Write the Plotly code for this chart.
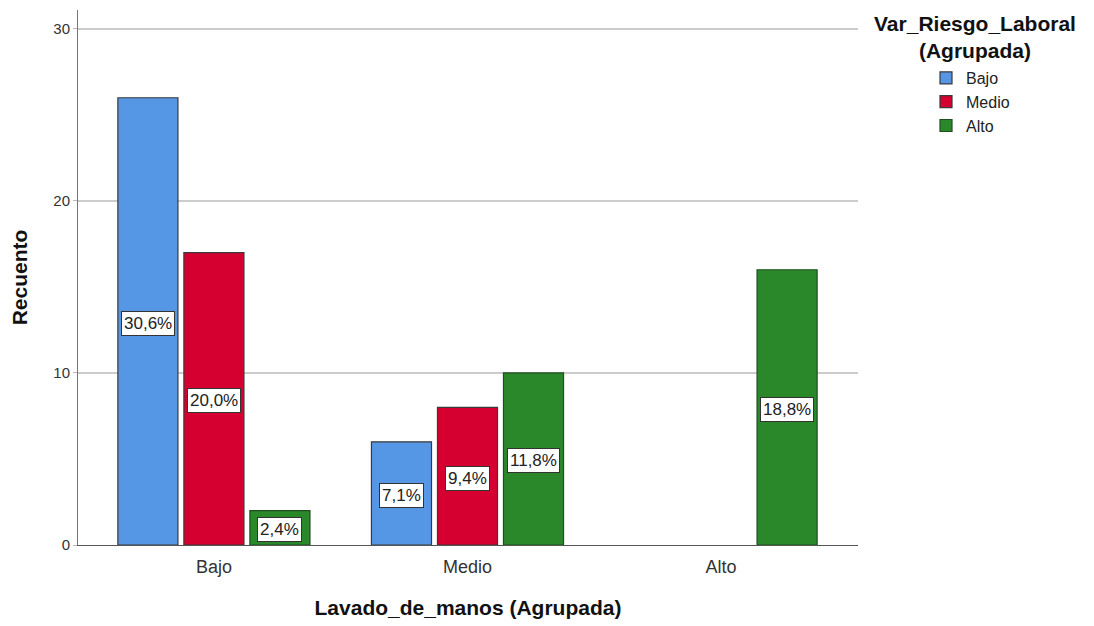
import plotly.graph_objects as go

categories = ["Bajo", "Medio", "Alto"]
series_names = ["Bajo", "Medio", "Alto"]
counts = {
    "Bajo": [26, 6, None],
    "Medio": [17, 8, None],
    "Alto": [2, 10, 16],
}
pct_labels = {
    "Bajo": ["30,6%", "7,1%", None],
    "Medio": ["20,0%", "9,4%", None],
    "Alto": ["2,4%", "11,8%", "18,8%"],
}
colors = {"Bajo": "#5596E5", "Medio": "#D5002F", "Alto": "#2A872A"}
outline = {"Bajo": "#3a3a3a", "Medio": "#3a3a3a", "Alto": "#1f4f1f"}

FONT = "Liberation Sans, Arial, sans-serif"
BARGAP = 0.219

fig = go.Figure()
for s in series_names:
    fig.add_trace(go.Bar(
        name=s, x=categories, y=counts[s],
        marker=dict(color=colors[s], line=dict(color=outline[s], width=1.2)),
        offsetgroup=s,
    ))

# percentage labels at bar mid-heights
n = len(series_names)
slot = (1 - BARGAP) / n
for i, s in enumerate(series_names):
    for j, c in enumerate(categories):
        v = counts[s][j]
        lab = pct_labels[s][j]
        if v is None or lab is None:
            continue
        xoff = -(1 - BARGAP) / 2 + slot * (i + 0.5)
        fig.add_annotation(
            x=j + xoff, y=v / 2, xref="x", yref="y",
            text=lab, showarrow=False,
            font=dict(family=FONT, size=17, color="#222"),
            bgcolor="white", bordercolor="#333", borderwidth=1, borderpad=2,
            yshift=-2,
        )

# legend title as annotation
fig.add_annotation(
    xref="paper", yref="paper", x=(975 - 78) / 780, y=1.0,
    xanchor="center", yanchor="top",
    text="<b>Var_Riesgo_Laboral</b><br><b>(Agrupada)</b>",
    showarrow=False, align="center",
    font=dict(family=FONT, size=21, color="#111"),
)

# page body has an 8px margin: figure is placed at (8, 8)
fig.update_layout(
    width=1086, height=618,
    margin=dict(l=70, r=236, t=2, b=81),
    paper_bgcolor="white", plot_bgcolor="white",
    barmode="group", bargap=BARGAP, bargroupgap=0.09,
    font=dict(family=FONT, color="#333"),
    legend=dict(
        x=(926 - 78) / 780, y=(535 - 51) / 535, xanchor="left", yanchor="top",
        font=dict(family=FONT, size=16, color="#222"),
        bgcolor="rgba(0,0,0,0)", tracegroupgap=0, itemwidth=30,
    ),
    showlegend=True,
    xaxis=dict(
        range=[-0.536, 2.54], showgrid=False, showline=True,
        linecolor="#555", linewidth=1, ticks="outside", ticklen=5,
        tickcolor="rgba(0,0,0,0)",
        tickfont=dict(family=FONT, size=18, color="#333"),
        title=dict(text="<b>Lavado_de_manos (Agrupada)</b>",
                   font=dict(family=FONT, size=21, color="#111"), standoff=24),
    ),
    yaxis=dict(
        range=[0, 31.1], tickvals=[0, 10, 20, 30], showgrid=True,
        gridcolor="#cccccc", gridwidth=1.5, showline=True, linecolor="#777",
        linewidth=1, ticks="outside", ticklen=4, tickcolor="#bbb",
        tickfont=dict(family=FONT, size=15, color="#333"), zeroline=False,
        title=dict(text="<b>Recuento</b>",
                   font=dict(family=FONT, size=21, color="#111"), standoff=20),
    ),
)

fig.write_html("out.html")
